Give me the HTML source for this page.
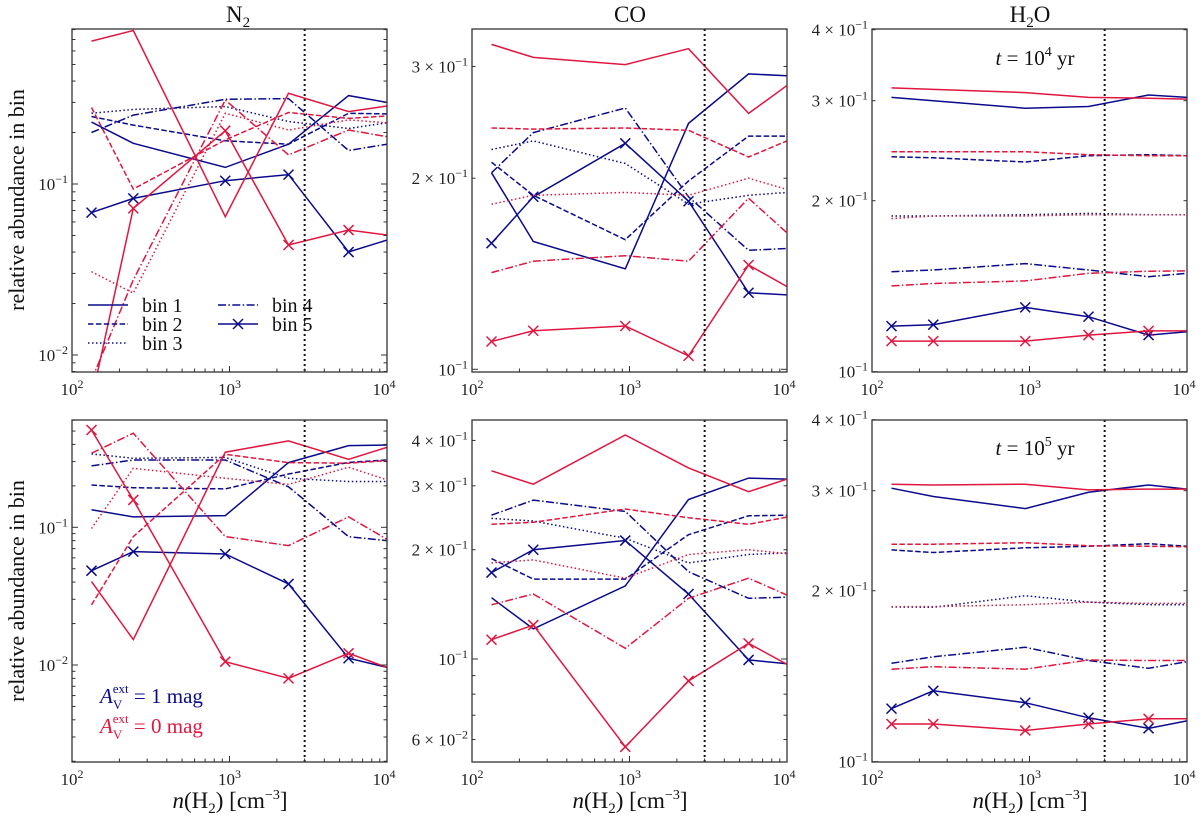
<!DOCTYPE html>
<html><head><meta charset="utf-8">
<style>
html,body{margin:0;padding:0;background:#fff;}
svg{display:block;font-family:"Liberation Serif",serif;}
</style></head>
<body>
<svg id="fig" width="1200" height="819" viewBox="0 0 1200 819" xmlns="http://www.w3.org/2000/svg"></svg>
<script>
// ---- data ----
const xVals = [133, 245, 940, 2370, 5700, 10000];
const binNames = ["bin 1","bin 2","bin 3","bin 4","bin 5"];
// top row (t=1e4 yr)
const n2TopBlue = [[0.23,0.173,0.125,0.171,0.329,0.30],[0.248,0.221,0.179,0.171,0.259,0.257],[0.259,0.273,0.284,0.232,0.211,0.228],[0.200,0.253,0.313,0.316,0.157,0.171],[0.068,0.0824,0.1045,0.1135,0.040,0.047]];
const n2TopRed = [[0.685,0.79,0.0644,0.339,0.265,0.286],[0.28,0.0935,0.181,0.262,0.242,0.25],[0.0307,0.023,0.259,0.207,0.237,0.228],[0.00714,0.0275,0.31,0.148,0.207,0.189],[0.00546,0.072,0.205,0.044,0.0538,0.0503]];
const coTopBlue = [[0.204,0.159,0.144,0.244,0.292,0.29],[0.212,0.188,0.16,0.198,0.233,0.233],[0.222,0.229,0.211,0.182,0.188,0.190],[0.204,0.236,0.258,0.187,0.154,0.155],[0.158,0.187,0.227,0.184,0.132,0.131]];
const coTopRed = [[0.325,0.31,0.302,0.32,0.253,0.28],[0.24,0.239,0.24,0.238,0.216,0.229],[0.182,0.188,0.19,0.188,0.2,0.192],[0.142,0.148,0.151,0.148,0.186,0.164],[0.1106,0.115,0.117,0.105,0.146,0.135]];
const h2oTopBlue = [[0.304,0.3,0.291,0.293,0.307,0.304],[0.239,0.238,0.234,0.24,0.241,0.24],[0.188,0.188,0.189,0.19,0.189,0.189],[0.15,0.151,0.155,0.151,0.147,0.149],[0.1203,0.121,0.1298,0.125,0.116,0.1176]];
const h2oTopRed = [[0.316,0.314,0.31,0.304,0.303,0.302],[0.244,0.244,0.244,0.241,0.24,0.24],[0.186,0.188,0.188,0.189,0.189,0.189],[0.1416,0.143,0.1445,0.149,0.1503,0.1505],[0.1132,0.1132,0.1132,0.116,0.118,0.118]];
// bottom row (t=1e5 yr)
const n2BotBlue = [[0.134,0.119,0.1216,0.295,0.392,0.396],[0.203,0.194,0.19,0.244,0.296,0.308],[0.341,0.317,0.322,0.227,0.215,0.215],[0.279,0.308,0.308,0.197,0.0855,0.08],[0.0484,0.0666,0.064,0.0388,0.0112,0.0096]];
const n2BotRed = [[0.0403,0.0153,0.351,0.424,0.312,0.381],[0.0273,0.0856,0.339,0.295,0.292,0.305],[0.098,0.268,0.227,0.205,0.273,0.221],[0.345,0.482,0.0856,0.0736,0.119,0.0818],[0.509,0.158,0.01057,0.008,0.01216,0.0096]];
const coBotBlue = [[0.1475,0.121,0.159,0.275,0.315,0.313],[0.189,0.166,0.166,0.22,0.248,0.249],[0.244,0.24,0.215,0.184,0.194,0.196],[0.249,0.274,0.255,0.174,0.147,0.148],[0.173,0.2,0.212,0.151,0.0994,0.097]];
const coBotRed = [[0.33,0.303,0.414,0.336,0.289,0.313],[0.235,0.238,0.259,0.245,0.235,0.246],[0.184,0.1875,0.167,0.194,0.2,0.195],[0.141,0.151,0.107,0.147,0.167,0.15],[0.113,0.124,0.0573,0.087,0.1104,0.0967]];
const h2oBotBlue = [[0.303,0.293,0.279,0.298,0.307,0.302],[0.236,0.2335,0.238,0.2395,0.242,0.2395],[0.1872,0.187,0.196,0.191,0.189,0.189],[0.149,0.153,0.159,0.1507,0.146,0.15],[0.124,0.1333,0.127,0.1195,0.1145,0.118]];
const h2oBotRed = [[0.308,0.307,0.308,0.301,0.302,0.302],[0.2415,0.2415,0.243,0.24,0.2395,0.239],[0.1875,0.1875,0.189,0.191,0.19,0.19],[0.1455,0.147,0.1455,0.151,0.1507,0.1507],[0.1165,0.1165,0.1135,0.1165,0.119,0.119]];
const critDensity = 3000;

const svg = document.getElementById('fig');
const NS = 'http://www.w3.org/2000/svg';
const BLUE = '#0a0a8c', RED = '#e0163f';
const DASH = [null, '5.5,2.4', '1.5,2.5', '8,2.4,1.5,2.4', null];

function mk(tag, attrs, parent){ const e=document.createElementNS(NS,tag); for(const k in attrs) e.setAttribute(k,attrs[k]); (parent||svg).appendChild(e); return e; }

function powLabel(g, x, y, mant, exp, anchor){
  const t = mk('text',{x:x,y:y,'font-size':17,'text-anchor':anchor,fill:'#222'},g);
  
  
  t.appendChild(document.createTextNode((mant? mant+' × ':'')+'10'));
  const s = mk('tspan',{dy:-7,'font-size':12},t); s.textContent = exp;
  return t;
}

const panels = [
 {name:'n2-top', x0:72, y0:29, y1:372, ref:184, dec:171, blue:n2TopBlue, red:n2TopRed, ylab:[[1,-1],[1,-2]]},
 {name:'co-top', x0:472, y0:29, y1:372, ref:369.3, dec:634.7, blue:coTopBlue, red:coTopRed, ylab:[[1,-1],[2,-1],[3,-1]]},
 {name:'h2o-top', x0:872, y0:29, y1:372, ref:371.7, dec:568, blue:h2oTopBlue, red:h2oTopRed, ylab:[[1,-1],[2,-1],[3,-1],[4,-1]]},
 {name:'n2-bottom', x0:72, y0:420, y1:762, ref:527.3, dec:137.7, blue:n2BotBlue, red:n2BotRed, ylab:[[1,-1],[1,-2]]},
 {name:'co-bottom', x0:472, y0:420, y1:762, ref:659, dec:363, blue:coBotBlue, red:coBotRed, ylab:[[6,-2],[1,-1],[2,-1],[3,-1],[4,-1]]},
 {name:'h2o-bottom', x0:872, y0:420, y1:762, ref:761.7, dec:568, blue:h2oBotBlue, red:h2oBotRed, ylab:[[1,-1],[2,-1],[3,-1],[4,-1]]},
];
const PW = 315;

panels.forEach((p, pi)=>{
  const g = mk('g',{});
  
  
  const xs = v => p.x0 + (Math.log10(v)-2)/2*PW;
  const ys = v => p.ref - (Math.log10(v)+1)*p.dec;
  const clipId = 'clip'+pi;
  const cp = mk('clipPath',{id:clipId},g); mk('rect',{x:p.x0,y:p.y0,width:PW,height:p.y1-p.y0},cp);
  const plot = mk('g',{'clip-path':'url(#'+clipId+')'},g);
  [['blue',BLUE,p.blue],['red',RED,p.red]].forEach(([cn,col,arr])=>{
    arr.forEach((vals,bi)=>{
      const pts = vals.map((v,i)=>xs(xVals[i]).toFixed(1)+','+ys(v).toFixed(1)).join(' ');
      const pl = mk('polyline',{points:pts,fill:'none',stroke:col,'stroke-width':1.5,'stroke-linejoin':'miter'},plot);
      if(DASH[bi]) pl.setAttribute('stroke-dasharray',DASH[bi]);
      
      
      if(bi===4){
        vals.forEach((v,i)=>{
          if(i===5) return;
          const cx=xs(xVals[i]), cy=ys(v), r=5;
          const m = mk('path',{d:`M${cx-r},${cy-r}L${cx+r},${cy+r}M${cx-r},${cy+r}L${cx+r},${cy-r}`,stroke:col,'stroke-width':1.5,fill:'none'},plot);
          
          
        });
      }
    });
  });
  const cx = xs(critDensity);
  const vl = mk('line',{x1:cx,x2:cx,y1:p.y0,y2:p.y1,stroke:'#111','stroke-width':2,'stroke-dasharray':'2,3'},g);
  
  
  const fr = mk('rect',{x:p.x0,y:p.y0,width:PW,height:p.y1-p.y0,fill:'none',stroke:'#333','stroke-width':1.3},g);
  
  
  for(let d=2; d<4; d++){
    for(let m=1;m<10;m++){
      const v = m*Math.pow(10,d); const x = xs(v); const L = m===1?6:3.5;
      mk('line',{x1:x,x2:x,y1:p.y1,y2:p.y1-L,stroke:'#333','stroke-width':1},g);
    }
  }
  [2,3,4].forEach(e=>{ powLabel(g, xs(Math.pow(10,e))+ (e===4?-3:0), p.y1+23, '', e, 'middle'); });
  for(let d=-3; d<=0; d++){
    for(let m=1;m<10;m++){
      const v = m*Math.pow(10,d); const y = ys(v);
      if(y < p.y0-0.5 || y > p.y1+0.5) continue;
      const L = m===1?6:3.5;
      mk('line',{x1:p.x0,x2:p.x0+L,y1:y,y2:y,stroke:'#333','stroke-width':1},g);
      mk('line',{x1:p.x0+PW,x2:p.x0+PW-L,y1:y,y2:y,stroke:'#333','stroke-width':1},g);
    }
  }
  p.ylab.forEach(([m,e])=>{ powLabel(g, p.x0-4, ys(m*Math.pow(10,e))+6, m===1?'':String(m), '−'+(-e), 'end'); });
});

function txt(x,y,s,size,attrs,name){ const t=mk('text',Object.assign({x:x,y:y,'font-size':size,fill:'#111'},attrs||{})); t.innerHTML=s;
    return t; }
txt(238,22,'N<tspan dy="5" font-size="15">2</tspan>',23,{'text-anchor':'middle'},'n2-title');
txt(630,22,'CO',23,{'text-anchor':'middle'},'co-title');
txt(1030,22,'H<tspan dy="5" font-size="15">2</tspan><tspan dy="-5">O</tspan>',23,{'text-anchor':'middle'},'h2o-title');
txt(0,0,'relative abundance in bin',22,{'text-anchor':'middle',transform:'translate(24,200) rotate(-90)'},'y-axis-title-top');
txt(0,0,'relative abundance in bin',22,{'text-anchor':'middle',transform:'translate(24,591) rotate(-90)'},'y-axis-title-bottom');
[230,630,1030].forEach((c,i)=>{
  txt(c,808,'<tspan font-style="italic">n</tspan>(H<tspan dy="5" font-size="15">2</tspan><tspan dy="-5">)  [cm</tspan><tspan dy="-9" font-size="14">−3</tspan><tspan dy="9">]</tspan>',23,{'text-anchor':'middle'},'x-axis-title');
});
txt(1035,65,'<tspan font-style="italic">t</tspan> = 10<tspan dy="-9" font-size="14">4</tspan><tspan dy="9"> yr</tspan>',21,{'text-anchor':'middle'},'time-annotation-top');
txt(1035,455,'<tspan font-style="italic">t</tspan> = 10<tspan dy="-9" font-size="14">5</tspan><tspan dy="9"> yr</tspan>',21,{'text-anchor':'middle'},'time-annotation-bottom');
txt(100,703,'<tspan font-style="italic">A</tspan><tspan dy="6" font-size="13">V</tspan><tspan dy="-16" dx="-8" font-size="13">ext</tspan><tspan dy="10"> = 1 mag</tspan>',21,{fill:BLUE},'av1-annotation');
txt(100,733,'<tspan font-style="italic">A</tspan><tspan dy="6" font-size="13">V</tspan><tspan dy="-16" dx="-8" font-size="13">ext</tspan><tspan dy="10"> = 0 mag</tspan>',21,{fill:RED},'av0-annotation');
const leg = mk('g',{});


binNames.forEach((b,i)=>{
  const col = i<3?0:1, row = i<3?i:i-3;
  const lx = col===0?88:218, ly = 305+row*19;
  const l = mk('line',{x1:lx,x2:lx+40,y1:ly,y2:ly,stroke:BLUE,'stroke-width':1.5},leg);
  if(DASH[i]) l.setAttribute('stroke-dasharray',DASH[i]);
  
  
  if(i===4){ mk('path',{d:`M${lx+15},${ly-5}L${lx+25},${ly+5}M${lx+15},${ly+5}L${lx+25},${ly-5}`,stroke:BLUE,'stroke-width':1.5},leg); }
  const t = mk('text',{x:lx+54,y:ly+7,'font-size':20,fill:'#111'},leg); t.textContent=b;
  
  
});
</script>
</body></html>
